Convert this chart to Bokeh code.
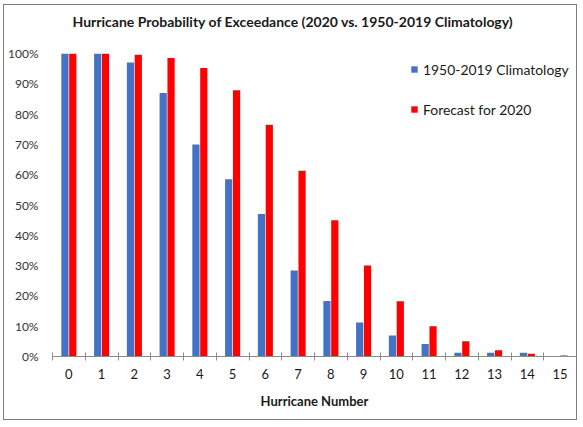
from bokeh.plotting import figure
from bokeh.models import ColumnDataSource, FixedTicker, NumeralTickFormatter, Range1d, Legend, LegendItem, Title
from bokeh.transform import dodge
from bokeh.embed import file_html
from bokeh.resources import INLINE

# hurricane counts and exceedance probabilities (%)
hurricanes = list(range(16))
tick_labels = [str(n) for n in hurricanes]
climatology = [100, 100, 97.0, 87.0, 70.0, 58.5, 47.0, 28.4, 18.3, 11.2, 6.9, 4.1, 1.2, 1.2, 1.2, 0.0]
forecast = [100, 100, 99.6, 98.5, 95.2, 87.9, 76.5, 61.3, 45.0, 30.0, 18.2, 10.0, 5.0, 2.1, 0.9, 0.3]
title_text = "Hurricane Probability of Exceedance (2020 vs. 1950-2019 Climatology)"

src = ColumnDataSource(data=dict(
    x=hurricanes,
    clim=[v / 100 for v in climatology],
    fcst=[v / 100 for v in forecast],
))

FONT = "Lato"

p = figure(width=574, height=416, output_backend="svg", toolbar_location=None,
           x_range=Range1d(-0.5, 15.5), y_range=Range1d(0, 1.0),
           min_border_left=48, min_border_right=2, min_border_top=47, min_border_bottom=65)
p.styles = {"border": "1px solid #7f7f7f", "margin": "4px 0 0 3px"}
p.outline_line_color = None
p.grid.grid_line_color = None

# title sits higher than bokeh puts it, so a blank title goes between it and the frame
p.title = None
p.add_layout(Title(text=" ", text_font=FONT, text_font_size="14px", standoff=0), "above")
p.add_layout(Title(text=title_text, text_font=FONT, text_font_size="14px", text_font_style="bold",
                   text_color="#1a1a1a", align="left", offset=20, standoff=10), "above")

r1 = p.vbar(x=dodge("x", -0.12, range=p.x_range), top="clim", width=0.22, source=src,
            fill_color="#4472C4", line_color=None)
r2 = p.vbar(x=dodge("x", 0.12, range=p.x_range), top="fcst", width=0.22, source=src,
            fill_color="#FF0000", line_color=None)

# y axis: percent labels only
p.yaxis.ticker = FixedTicker(ticks=[i / 10 for i in range(11)])
p.yaxis.formatter = NumeralTickFormatter(format="0%")
p.yaxis.axis_line_color = None
p.yaxis.major_tick_line_color = None
p.yaxis.major_tick_out = 0
p.yaxis.major_tick_in = 0
p.yaxis.minor_tick_line_color = None
p.yaxis.minor_tick_out = 0
p.yaxis.major_label_text_font = FONT
p.yaxis.major_label_text_font_size = "12px"
p.yaxis.major_label_text_color = "#333333"
p.yaxis.major_label_standoff = 14

# x axis: labels at bar groups, cross ticks between groups
p.xaxis.ticker = FixedTicker(ticks=hurricanes, minor_ticks=[h - 0.5 for h in hurricanes] + [15.5])
p.xaxis.major_label_overrides = {h: t for h, t in zip(hurricanes, tick_labels)}
p.xaxis.axis_line_color = "#8c8c8c"
p.xaxis.major_tick_line_color = None
p.xaxis.minor_tick_line_color = "#8c8c8c"
p.xaxis.minor_tick_in = 4
p.xaxis.minor_tick_out = 4
p.xaxis.major_label_text_font = FONT
p.xaxis.major_label_text_font_size = "13px"
p.xaxis.major_label_text_color = "#1a1a1a"
p.xaxis.major_label_standoff = 6
p.xaxis.axis_label = "Hurricane Number"
p.xaxis.axis_label_text_font = FONT
p.xaxis.axis_label_text_font_size = "13px"
p.xaxis.axis_label_text_font_style = "bold"
p.xaxis.axis_label_text_color = "#1a1a1a"
p.xaxis.axis_label_standoff = 11

legend = Legend(items=[LegendItem(label="1950-2019 Climatology", renderers=[r1]),
                       LegendItem(label="Forecast for 2020", renderers=[r2])],
                location=(358, 238), orientation="vertical",
                glyph_width=8, glyph_height=8, label_height=18, spacing=22,
                label_standoff=5, padding=0, margin=0,
                label_text_font=FONT, label_text_font_size="13.9px", label_text_color="#1a1a1a",
                border_line_color=None, background_fill_alpha=0)
p.add_layout(legend)

open("out.html", "w").write(file_html(p, INLINE))
